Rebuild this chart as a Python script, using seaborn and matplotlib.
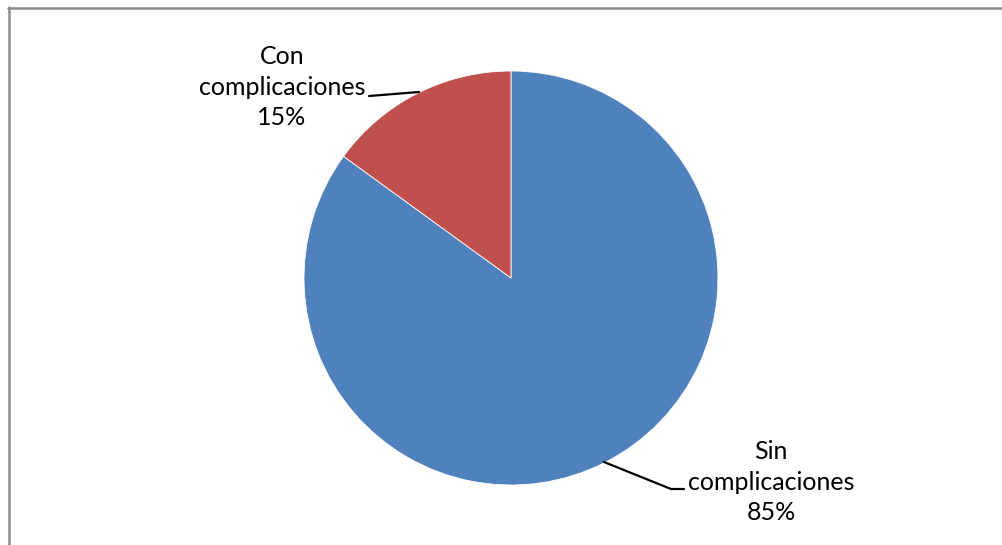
import matplotlib
matplotlib.use("Agg")
import matplotlib.pyplot as plt
from matplotlib.lines import Line2D
import seaborn as sns

# Data
categories = ["Sin\ncomplicaciones", "Con\ncomplicaciones"]
values = [85, 15]
colors = ["#4F81BD", "#C0504D"]

sns.set_theme(style="white")
plt.rcParams["font.family"] = ["Lato", "DejaVu Sans"]

W, H = 1002, 545
fig = plt.figure(figsize=(W / 100, H / 100), dpi=100)
ax = fig.add_axes([0, 0, 1, 1])

# pie centre and radius in pixels
cx, cy, r = 511, 278, 207

wedges, _ = ax.pie(values, colors=colors, startangle=90, counterclock=False,
                   radius=1, wedgeprops=dict(edgecolor="white", linewidth=0.6))
ax.set_xlim(-cx / r, (W - cx) / r)
ax.set_ylim(-(H - cy) / r, cy / r)
ax.set_aspect("auto")
ax.axis("off")

def px(x, y):
    return (x - cx) / r, (cy - y) / r

total = sum(values)
labels = [f"{c}\n{round(v / total * 100)}%" for c, v in zip(categories, values)]

# Label for "Sin complicaciones"
lx, ly = px(771, 482)
ax.text(lx, ly, labels[0], ha="center", va="center", fontsize=18,
        linespacing=1.42, color="black")
pts = [px(604, 462), px(671, 489), px(684, 489)]
ax.plot([p[0] for p in pts], [p[1] for p in pts], color="black", lw=1.6)

# Label for "Con complicaciones"
lx, ly = px(282, 87)
ax.text(lx, ly, labels[1], ha="center", va="center", fontsize=18,
        linespacing=1.42, color="black")
pts = [px(369, 96), px(419, 92)]
ax.plot([p[0] for p in pts], [p[1] for p in pts], color="black", lw=1.6)

# Chart frame (left and top edges)
fig.add_artist(Line2D([8.5 / W, 8.5 / W], [0, 1 - 7 / H], color="#8c8c8c",
                      lw=1.8, transform=fig.transFigure))
fig.add_artist(Line2D([8 / W, 1], [1 - 7.5 / H, 1 - 7.5 / H], color="#8c8c8c",
                      lw=1.8, transform=fig.transFigure))

fig.savefig("out.png", dpi=100, facecolor="white")
